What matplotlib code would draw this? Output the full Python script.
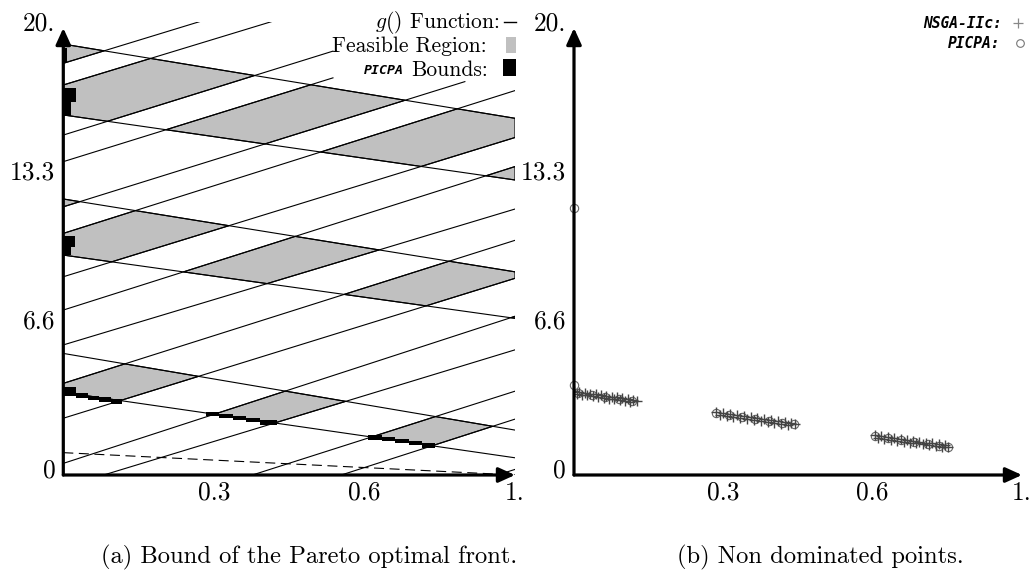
import matplotlib
matplotlib.use("Agg")
import matplotlib.pyplot as plt
from matplotlib.patches import Rectangle
from matplotlib.lines import Line2D
from matplotlib.transforms import offset_copy

plt.rcParams['mathtext.fontset'] = 'cm'
SERIF = ['cmr10', 'DejaVu Serif']
MONO = 'DejaVu Sans Mono'
W, H = 1035, 577

# ---- panel (a) data -------------------------------------------------------
# rising lines, value at f1=0 and at f1=1, and where each line stops
up_y0 = [18.42, 17.45, 15.21, 14.02, 12.00, 10.81, 8.87, 7.38, 5.82, 4.10,
         2.54, 0.52, -0.55, -2.70, -4.00, -6.10]
up_y1 = [24.60, 23.60, 21.50, 20.30, 18.30, 17.20, 15.10, 13.80, 11.90, 10.50,
         8.80, 7.10, 5.60, 3.75, 2.50, 0.25]
up_end = [1.0, 1.0, 0.597, 0.597, 0.889, 1.0, 1.0, 1.0, 1.0, 1.0,
          1.0, 1.0, 1.0, 1.0, 1.0, 1.0]
# g() function lines
down_y0 = [19.28, 16.11, 12.35, 9.84, 5.44, 3.70]
down_y1 = [15.96, 13.20, 9.09, 7.01, 2.01, 0.77]
ideal_y = [1.0, 0.0]

# feasible strips: (upper line, lower line) indices
up_pairs = [(None, 0), (1, 2), (3, 4), (5, 6), (7, 8), (9, 10), (11, 12), (13, 14)]
down_pairs = [(0, 1), (2, 3), (4, 5)]

# PICPA bounds boxes
bound_x0 = [0.000, 0.000, 0.000, 0.000, 0.000,
            0.000, 0.028, 0.055, 0.080, 0.105,
            0.317, 0.345, 0.375, 0.405, 0.435,
            0.675, 0.705, 0.735, 0.765, 0.795]
bound_x1 = [0.008, 0.028, 0.017, 0.026, 0.017,
            0.028, 0.055, 0.080, 0.105, 0.130,
            0.345, 0.375, 0.405, 0.435, 0.472,
            0.705, 0.735, 0.765, 0.795, 0.823]
bound_y0 = [18.45, 16.70, 16.05, 10.20, 9.85,
            3.55, 3.45, 3.37, 3.28, 3.18,
            2.62, 2.55, 2.46, 2.37, 2.24,
            1.58, 1.50, 1.41, 1.33, 1.22]
bound_y1 = [19.10, 17.30, 16.70, 10.70, 10.20,
            3.95, 3.65, 3.55, 3.47, 3.40,
            2.83, 2.72, 2.64, 2.55, 2.46,
            1.79, 1.68, 1.60, 1.51, 1.43]

# ---- panel (b) data -------------------------------------------------------
nsga_x = [0.000, 0.006, 0.012, 0.018, 0.024, 0.030, 0.036, 0.042, 0.048, 0.054,
          0.060, 0.066, 0.072, 0.078, 0.084, 0.090, 0.096, 0.102, 0.108, 0.114,
          0.120, 0.126, 0.132, 0.140,
          0.318, 0.326, 0.333, 0.341, 0.348, 0.356, 0.364, 0.371, 0.379, 0.386,
          0.394, 0.402, 0.409, 0.417, 0.424, 0.432, 0.440, 0.447, 0.455, 0.462,
          0.470, 0.478, 0.485, 0.493,
          0.672, 0.679, 0.686, 0.693, 0.700, 0.707, 0.715, 0.722, 0.729, 0.736,
          0.743, 0.750, 0.757, 0.764, 0.771, 0.778, 0.786, 0.793, 0.800, 0.807,
          0.814, 0.821, 0.828, 0.835]
nsga_y = [3.75, 3.63, 3.71, 3.60, 3.68, 3.56, 3.64, 3.53, 3.61, 3.49,
          3.57, 3.46, 3.54, 3.42, 3.50, 3.39, 3.47, 3.35, 3.43, 3.32,
          3.40, 3.28, 3.36, 3.29,
          2.82, 2.70, 2.77, 2.65, 2.73, 2.61, 2.68, 2.56, 2.64, 2.52,
          2.60, 2.47, 2.55, 2.43, 2.51, 2.38, 2.46, 2.34, 2.42, 2.30,
          2.37, 2.25, 2.33, 2.26,
          1.78, 1.66, 1.74, 1.62, 1.70, 1.58, 1.66, 1.53, 1.61, 1.49,
          1.57, 1.45, 1.53, 1.41, 1.49, 1.37, 1.45, 1.33, 1.41, 1.29,
          1.37, 1.24, 1.32, 1.25]
picpa_x = [0.000, 0.000, 0.010, 0.040, 0.070, 0.100, 0.130,
           0.318, 0.345, 0.375, 0.405, 0.435, 0.465, 0.490,
           0.672, 0.700, 0.730, 0.760, 0.790, 0.815, 0.835]
picpa_y = [11.93, 4.03, 3.67, 3.58, 3.49, 3.41, 3.32,
           2.77, 2.69, 2.60, 2.51, 2.43, 2.34, 2.27,
           1.73, 1.65, 1.56, 1.47, 1.39, 1.31, 1.26]

ytick_pos = [0, 20 / 3, 40 / 3, 20]
ytick_lab = ['0', '6.6', '13.3', '20.']
xtick_pos = [1 / 3, 2 / 3, 1]
xtick_lab = ['0.3', '0.6', '1.']
YTOP = 20.25


def clip(poly, y0, y1, above):
    out = []
    n = len(poly)
    for i in range(n):
        p, q = poly[i], poly[(i + 1) % n]
        fp = p[1] - (y0 + (y1 - y0) * p[0])
        fq = q[1] - (y0 + (y1 - y0) * q[0])
        if not above:
            fp, fq = -fp, -fq
        if fp >= 0:
            out.append(p)
        if (fp >= 0) != (fq >= 0):
            t = fp / (fp - fq)
            out.append((p[0] + t * (q[0] - p[0]), p[1] + t * (q[1] - p[1])))
    return out


def setup(ax):
    ax.set_xlim(0, 1)
    ax.set_ylim(0, YTOP)
    ax.axis('off')
    arrow = dict(arrowstyle='-|>,head_length=0.55,head_width=0.25', lw=2.3,
                 color='k', mutation_scale=18, shrinkA=0, shrinkB=0)
    ax.annotate('', xy=(0, 20), xytext=(0, 0), arrowprops=arrow,
                annotation_clip=False, zorder=6)
    ax.annotate('', xy=(1, 0), xytext=(0, 0), arrowprops=arrow,
                annotation_clip=False, zorder=6)
    ty = offset_copy(ax.transData, fig=fig, x=-8, y=4, units='dots')
    for v, s in zip(ytick_pos, ytick_lab):
        ax.text(0, v, s, transform=ty, ha='right', va='center',
                family=SERIF, size=18.3)
    tx = offset_copy(ax.transData, fig=fig, x=0, y=-18, units='dots')
    for v, s in zip(xtick_pos, xtick_lab):
        ax.text(v, 0, s, transform=tx, ha='center', va='center',
                family=SERIF, size=18.3)


fig = plt.figure(figsize=(W / 100, H / 100), dpi=100)
ax1 = fig.add_axes([63.3 / W, 102 / H, 451.7 / W, YTOP * 22.35 / H])
ax2 = fig.add_axes([574 / W, 102 / H, 448 / W, YTOP * 22.35 / H])

# feasible regions
for hi, lo in up_pairs:
    for dt, db in down_pairs:
        poly = [(0, -1), (1, -1), (1, 25), (0, 25)]
        if hi is not None:
            poly = clip(poly, up_y0[hi], up_y1[hi], above=False)
        poly = clip(poly, up_y0[lo], up_y1[lo], above=True)
        poly = clip(poly, down_y0[dt], down_y1[dt], above=False)
        poly = clip(poly, down_y0[db], down_y1[db], above=True)
        if len(poly) >= 3:
            xs, ys = zip(*poly)
            ax1.fill(xs, ys, facecolor='#c0c0c0', edgecolor='k', lw=0.8, zorder=1)

for y0, y1, e in zip(up_y0, up_y1, up_end):
    ax1.plot([0, e], [y0, y0 + (y1 - y0) * e], color='k', lw=0.8, zorder=2)
for y0, y1 in zip(down_y0, down_y1):
    ax1.plot([0, 1], [y0, y1], color='k', lw=0.8, zorder=2)
ax1.plot([0, 1], ideal_y, color='k', lw=0.8, ls=(0, (9, 5)), zorder=2)

ax1.bar(bound_x0, [b - a for a, b in zip(bound_y0, bound_y1)],
        width=[b - a for a, b in zip(bound_x0, bound_x1)], bottom=bound_y0,
        align='edge', color='k', lw=0, zorder=3)
setup(ax1)

ax2.plot(picpa_x, picpa_y, 'o', ms=6, mfc='white', mec='#666666', mew=0.8,
         zorder=3, clip_on=False)
ax2.plot(nsga_x, nsga_y, '+', ms=6.5, color='#444444', mew=1.0, zorder=4)
setup(ax2)

# legends
fig.text(500 / W, 1 - 22 / H, r'$g()$ Function:', ha='right', va='center',
         family=SERIF, size=15.5)
fig.add_artist(Line2D([504 / W, 516 / W], [1 - 22 / H] * 2, color='k', lw=1.0))
fig.text(487 / W, 1 - 46 / H, 'Feasible Region:', ha='right', va='center',
         family=SERIF, size=15.5)
fig.add_artist(Rectangle((505.5 / W, 1 - 53 / H), 10.5 / W, 16 / H,
                         transform=fig.transFigure, fc='#c0c0c0', lw=0))
fig.text(488 / W, 1 - 70 / H, 'Bounds:', ha='right', va='center',
         family=SERIF, size=15.5)
fig.text(404 / W, 1 - 70 / H, 'PICPA', ha='right', va='center',
         family=MONO, weight='bold', style='italic', size=9.5)
fig.add_artist(Rectangle((502.5 / W, 1 - 76 / H), 13.5 / W, 17 / H,
                         transform=fig.transFigure, fc='k', lw=0))

fig.text(1002 / W, 1 - 23 / H, 'NSGA-IIc:', ha='right', va='center',
         family=MONO, weight='bold', style='italic', size=10.5)
fig.text(1000 / W, 1 - 43 / H, 'PICPA:', ha='right', va='center',
         family=MONO, weight='bold', style='italic', size=10.5)
fig.add_artist(Line2D([1018 / W], [1 - 23 / H], marker='+', ms=7, mew=0.9,
                      color='#888888', transform=fig.transFigure))
fig.add_artist(Line2D([1020 / W], [1 - 43 / H], marker='o', ms=5.5, mew=0.8,
                      mfc='white', mec='#777777', transform=fig.transFigure))

fig.text(309 / W, 1 - 557 / H, '(a) Bound of the Pareto optimal front.',
         ha='center', va='center', family=SERIF, size=17.7)
fig.text(820 / W, 1 - 557 / H, '(b) Non dominated points.',
         ha='center', va='center', family=SERIF, size=17.7)

fig.savefig('out.png', dpi=100)
